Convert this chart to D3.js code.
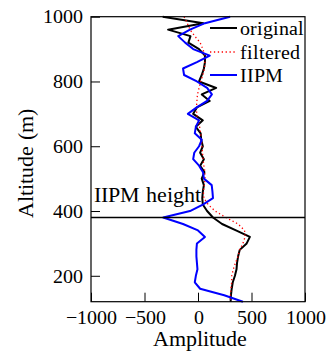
<!DOCTYPE html>
<html>
<head>
  <meta charset="utf-8">
  <script src="https://d3js.org/d3.v7.min.js"></script>
  <style>
    @font-face { font-family: "PlotSerif"; src: local("Liberation Serif"), local("LiberationSerif-Regular"), local("Times New Roman"); }
  </style>
</head>
<body style="margin:0">
  <script>
    // altitude samples (m), top to bottom
    var altitude = [1000, 980, 960, 940, 920, 900, 880, 860, 840, 820,
                    800, 780, 760, 740, 720, 700, 680, 660, 640, 620,
                    600, 580, 560, 540, 520, 500, 480, 460, 440, 420,
                    400, 380, 360, 340, 320, 300, 280, 260, 240, 220,
                    200, 180, 160, 140, 120];

    var original = [-330, 50, -280, -70, -90, 10, 65, 65, 55, 35,
                    10, 170, 35, 110, -10, -45, 45, -20, 25, 30,
                    45, 20, 55, 20, 60, 35, 55, 45, 40, 45,
                    85, 140, 225, 355, 485, 455, 390, 375, 365, 360,
                    345, 325, 315, 308, 305];

    var filtered = [-130, -100, -75, -30, 20, 45, 65, 65, 60, 45,
                    25, 10, -5, -10, -15, -12, 0, 15, 25, 32,
                    37, 42, 47, 55, 65, 65, 60, 50, 55, 95,
                    160, 260, 375, 435, 440, 420, 390, 375, 350, 330,
                    315, 315, 308, 303, 300];

    var iipm = [300, 65, -75, -185, -120, -45, 110, -10, -140, -130,
                -10, 85, 130, 85, -12, -95, 10, -20, -30, 35,
                10, -35, -45, 10, 47, 55, 128, 135, 140, 45,
                -75, -325, -140, 0, 65, -10, -15, -15, -10, -5,
                -20, -30, 20, 245, 420];

    var iipmHeight = 380;

    var xTicks = [-1000, -500, 0, 500, 1000];
    var yTicks = [200, 400, 600, 800, 1000];

    var seriesNames = ["original", "filtered", "IIPM"];

    var data = altitude.map((a, i) => ({ alt: a, original: original[i], filtered: filtered[i], iipm: iipm[i] }));

    var serif = "PlotSerif, 'Liberation Serif', 'Times New Roman', serif";

    var svg = d3.select("body")
                .append("svg")
                .attr("width", 328)
                .attr("height", 352);

    var plot = { left: 91, right: 305, top: 16.7, bottom: 301.7 };

    var xScale = d3.scaleLinear()
                   .domain([-1000, 1000])
                   .range([plot.left, plot.right]);

    var yScale = d3.scaleLinear()
                   .domain([120, 1000])
                   .range([plot.bottom, plot.top]);

    // line generators, kept inside the plot box
    var lineOrig = d3.line().x(d => Math.min(xScale(d.original), plot.right)).y(d => yScale(d.alt));
    var lineFilt = d3.line().x(d => Math.min(xScale(d.filtered), plot.right)).y(d => yScale(d.alt));
    var lineIipm = d3.line().x(d => Math.min(xScale(d.iipm), plot.right)).y(d => yScale(d.alt));

    svg.append("path")
       .datum(data)
       .attr("fill", "none")
       .attr("stroke", "black")
       .attr("stroke-width", 2)
       .attr("stroke-linejoin", "round")
       .attr("d", lineOrig);

    svg.append("path")
       .datum(data)
       .attr("fill", "none")
       .attr("stroke", "red")
       .attr("stroke-width", 1.3)
       .attr("stroke-dasharray", "1.3,2.6")
       .attr("d", lineFilt);

    svg.append("path")
       .datum(data)
       .attr("fill", "none")
       .attr("stroke", "blue")
       .attr("stroke-width", 2)
       .attr("stroke-linejoin", "round")
       .attr("d", lineIipm);

    // IIPM height marker
    svg.append("line")
       .attr("x1", plot.left)
       .attr("x2", plot.right)
       .attr("y1", yScale(iipmHeight))
       .attr("y2", yScale(iipmHeight))
       .attr("stroke", "black")
       .attr("stroke-width", 1.6);

    svg.append("text")
       .attr("x", 94)
       .attr("y", yScale(iipmHeight) - 15.5)
       .attr("font-size", 21.5)
       .text("IIPM height");

    // axes, ticks pointing inward
    var yAxis = svg.append("g")
       .attr("transform", `translate(${plot.left}, 0)`)
       .call(d3.axisLeft(yScale).tickValues(yTicks).tickFormat(d3.format("d")).tickSize(-9).tickPadding(8));

    var xAxis = svg.append("g")
       .attr("transform", `translate(0, ${plot.bottom})`)
       .call(d3.axisBottom(xScale).tickValues(xTicks).tickFormat(d3.format("d")).tickSize(-9).tickPadding(8));

    [xAxis, yAxis].forEach(a => {
      a.attr("font-family", serif).attr("font-size", null);
      a.select(".domain").remove();
      a.selectAll("line").attr("stroke", "black").attr("stroke-width", 1);
      a.selectAll("text").attr("fill", "black").attr("font-size", 19.5);
    });

    // frame
    svg.append("rect")
       .attr("x", plot.left)
       .attr("y", plot.top)
       .attr("width", plot.right - plot.left)
       .attr("height", plot.bottom - plot.top)
       .attr("fill", "none")
       .attr("stroke", "black")
       .attr("stroke-width", 1.2);

    // axis labels
    svg.append("text")
       .attr("x", 200)
       .attr("y", 346)
       .attr("text-anchor", "middle")
       .attr("font-size", 21.5)
       .text("Amplitude");

    svg.append("text")
       .attr("transform", "rotate(-90)")
       .attr("x", -163.5)
       .attr("y", 32.5)
       .attr("text-anchor", "middle")
       .attr("font-size", 21.5)
       .text("Altitude (m)");

    // legend
    var legendColor = ["black", "red", "blue"];
    var legendWidth = [2, 1.3, 2];
    var legendDash = [null, "1.3,2.6", null];
    var legendY = [28, 52, 75];

    svg.selectAll("line.legend")
       .data(seriesNames)
       .enter()
       .append("line")
       .attr("class", "legend")
       .attr("x1", 210)
       .attr("x2", 237)
       .attr("y1", (d, i) => legendY[i])
       .attr("y2", (d, i) => legendY[i])
       .attr("stroke", (d, i) => legendColor[i])
       .attr("stroke-width", (d, i) => legendWidth[i])
       .attr("stroke-dasharray", (d, i) => legendDash[i]);

    svg.selectAll("text.legend")
       .data(seriesNames)
       .enter()
       .append("text")
       .attr("class", "legend")
       .attr("x", 240)
       .attr("y", (d, i) => legendY[i] + 6.5)
       .attr("font-size", 20)
       .text(d => d);

    // serif on every text
    svg.selectAll("text").attr("font-family", serif);
  </script>
</body>
</html>
